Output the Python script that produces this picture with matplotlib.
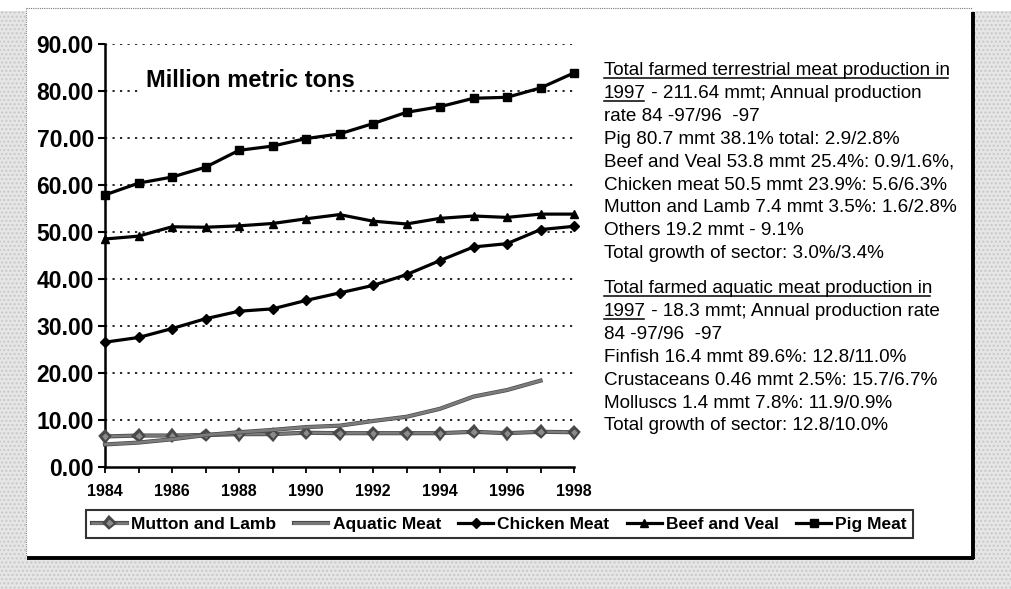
import matplotlib
matplotlib.use("Agg")
import matplotlib.pyplot as plt
import matplotlib.patheffects as pe
from matplotlib.patches import Rectangle
from matplotlib.lines import Line2D

plt.rcParams['font.family'] = ['Liberation Sans', 'DejaVu Sans']

# world meat production, million metric tons
years = list(range(1984, 1999))
pig = [57.9, 60.4, 61.7, 63.8, 67.4, 68.3, 69.9, 70.9, 73.1, 75.5, 76.7, 78.5, 78.7, 80.7, 83.9]
beef = [48.5, 49.1, 51.1, 51.0, 51.3, 51.8, 52.8, 53.7, 52.3, 51.7, 52.9, 53.4, 53.1, 53.8, 53.8]
chicken = [26.5, 27.5, 29.4, 31.5, 33.1, 33.6, 35.4, 37.0, 38.6, 40.9, 43.9, 46.8, 47.5, 50.5, 51.2]
mutton = [6.4, 6.6, 6.6, 6.7, 6.9, 6.9, 7.2, 7.1, 7.1, 7.1, 7.1, 7.4, 7.1, 7.4, 7.3]
aquatic_years = list(range(1984, 1998))
aquatic = [4.7, 5.1, 5.8, 6.7, 7.3, 7.8, 8.4, 8.7, 9.7, 10.6, 12.3, 14.9, 16.3, 18.3]

y_ticks = [0, 10, 20, 30, 40, 50, 60, 70, 80, 90]

notes_terrestrial = [
    "Total farmed terrestrial meat production in",
    "1997",
    "rate 84 -97/96  -97",
    "Pig 80.7 mmt 38.1% total: 2.9/2.8%",
    "Beef and Veal 53.8 mmt 25.4%: 0.9/1.6%,",
    "Chicken meat 50.5 mmt 23.9%: 5.6/6.3%",
    "Mutton and Lamb 7.4 mmt 3.5%: 1.6/2.8%",
    "Others 19.2 mmt - 9.1%",
    "Total growth of sector: 3.0%/3.4%",
]
rest_terrestrial = " - 211.64 mmt; Annual production"
notes_aquatic = [
    "Total farmed aquatic meat production in",
    "1997",
    "84 -97/96  -97",
    "Finfish 16.4 mmt 89.6%: 12.8/11.0%",
    "Crustaceans 0.46 mmt 2.5%: 15.7/6.7%",
    "Molluscs 1.4 mmt 7.8%: 11.9/0.9%",
    "Total growth of sector: 12.8/10.0%",
]
rest_aquatic = " - 18.3 mmt; Annual production rate"

W, H = 1011, 589
fig = plt.figure(figsize=(W / 100, H / 100), dpi=100, facecolor='white')


def fx(px):
    return px / W


def fy(py):
    return 1 - py / H


# grey page behind the white panel
fig.patches.append(Rectangle((0, 0), 1, fy(11), transform=fig.transFigure,
                             facecolor='#e6e6e6', edgecolor='#c8c8c8',
                             hatch='....', lw=0, zorder=0))
fig.patches.append(Rectangle((fx(26), fy(558)), fx(972) - fx(26), fy(8) - fy(558),
                             transform=fig.transFigure, facecolor='white',
                             edgecolor='none', zorder=1))
# panel border: dotted top/left, heavy right/bottom
fig.lines.append(Line2D([fx(26), fx(972)], [fy(8), fy(8)], transform=fig.transFigure,
                        color='#777777', lw=0.8, ls=(0, (1, 1)), zorder=2))
fig.lines.append(Line2D([fx(26), fx(26)], [fy(8), fy(557)], transform=fig.transFigure,
                        color='#888888', lw=0.8, ls=(0, (1, 1)), zorder=2))
fig.lines.append(Line2D([fx(972.5), fx(972.5)], [fy(12), fy(559)], transform=fig.transFigure,
                        color='black', lw=2.8, zorder=2, solid_capstyle='butt'))
fig.lines.append(Line2D([fx(27), fx(974)], [fy(558), fy(558)], transform=fig.transFigure,
                        color='black', lw=2.8, zorder=2, solid_capstyle='butt'))

ax = fig.add_axes([fx(105), fy(466.5), fx(574) - fx(105), fy(44.3) - fy(466.5)])
ax.set_facecolor('none')
ax.set_zorder(3)

grey = '#7c7c7c'
grey_fx = [pe.Stroke(linewidth=3.0, foreground='#4a4a4a'), pe.Normal()]

ax.plot(years, mutton, color=grey, lw=1.8, marker='D', ms=4.5, mfc='#8a8a8a',
        mec='#444444', mew=0.8, clip_on=False, path_effects=grey_fx,
        label='Mutton and Lamb', zorder=4)
ax.plot(aquatic_years, aquatic, color=grey, lw=2.0, clip_on=False,
        path_effects=grey_fx, label='Aquatic Meat', zorder=4)
ax.plot(years, chicken, color='black', lw=2.3, marker='D', ms=5.5,
        clip_on=False, label='Chicken Meat', zorder=5)
ax.plot(years, beef, color='black', lw=2.3, marker='^', ms=6,
        clip_on=False, label='Beef and Veal', zorder=5)
ax.plot(years, pig, color='black', lw=2.3, marker='s', ms=5.5,
        clip_on=False, label='Pig Meat', zorder=5)

ax.set_xlim(1984, 1998)
ax.set_ylim(0, 90)
ax.set_yticks(y_ticks)
ax.set_yticklabels([f"{v:.2f}" for v in y_ticks], fontsize=16.5, fontweight='bold')
ax.set_xticks(years[::2])
ax.set_xticks(years[1::2], minor=True)
ax.set_xticklabels([str(y) for y in years[::2]], fontsize=11.5, fontweight='bold')
ax.tick_params(axis='y', length=5, width=1.5, pad=3, direction='out')
ax.tick_params(axis='x', which='both', length=4.5, width=1.3, pad=8, direction='out')

for s in ['top', 'right']:
    ax.spines[s].set_visible(False)
for s in ['left', 'bottom']:
    ax.spines[s].set_linewidth(1.8)

for v in y_ticks[1:]:
    ax.axhline(v, color='black', lw=1.2, ls=(0, (1.3, 3.2)), zorder=1)

# white title box interrupts the 80 gridline
ax.add_patch(Rectangle((0.074, 0.872), 0.405, 0.085, transform=ax.transAxes,
                       facecolor='white', edgecolor='none', zorder=2))
ax.text(0.088, 0.915, "Million metric tons", transform=ax.transAxes,
        fontsize=17, fontweight='bold', va='center', ha='left', zorder=6)

leg = fig.legend(loc='center', bbox_to_anchor=(fx(499.5), fy(524)), ncol=5,
                 prop={'size': 12.5, 'weight': 'bold'}, frameon=True, fancybox=False,
                 edgecolor='black', handlelength=2.0, handletextpad=0.25,
                 columnspacing=1.0, borderpad=0.35)
leg.get_frame().set_linewidth(1.5)
leg.set_zorder(6)

# notes on the right, with underlined headings
renderer = fig.canvas.get_renderer()
text_x = 604
line_h = 22.9


def note_block(lines, rest, top_baseline):
    for i, s in enumerate(lines):
        base = top_baseline + i * line_h
        t = fig.text(fx(text_x), fy(base), s, fontsize=13.6, va='baseline',
                     ha='left', zorder=6)
        bb = t.get_window_extent(renderer)
        if i in (0, 1):
            fig.lines.append(Line2D([bb.x0 / W, bb.x1 / W - 0.002], [fy(base + 3), fy(base + 3)],
                                    transform=fig.transFigure, color='black', lw=1.1,
                                    zorder=6))
        if i == 1:
            fig.text(bb.x1 / W, fy(base), rest, fontsize=13.6, va='baseline',
                     ha='left', zorder=6)


note_block(notes_terrestrial, rest_terrestrial, 75)
note_block(notes_aquatic, rest_aquatic, 293)

fig.savefig("out.png", dpi=100, facecolor=fig.get_facecolor())
